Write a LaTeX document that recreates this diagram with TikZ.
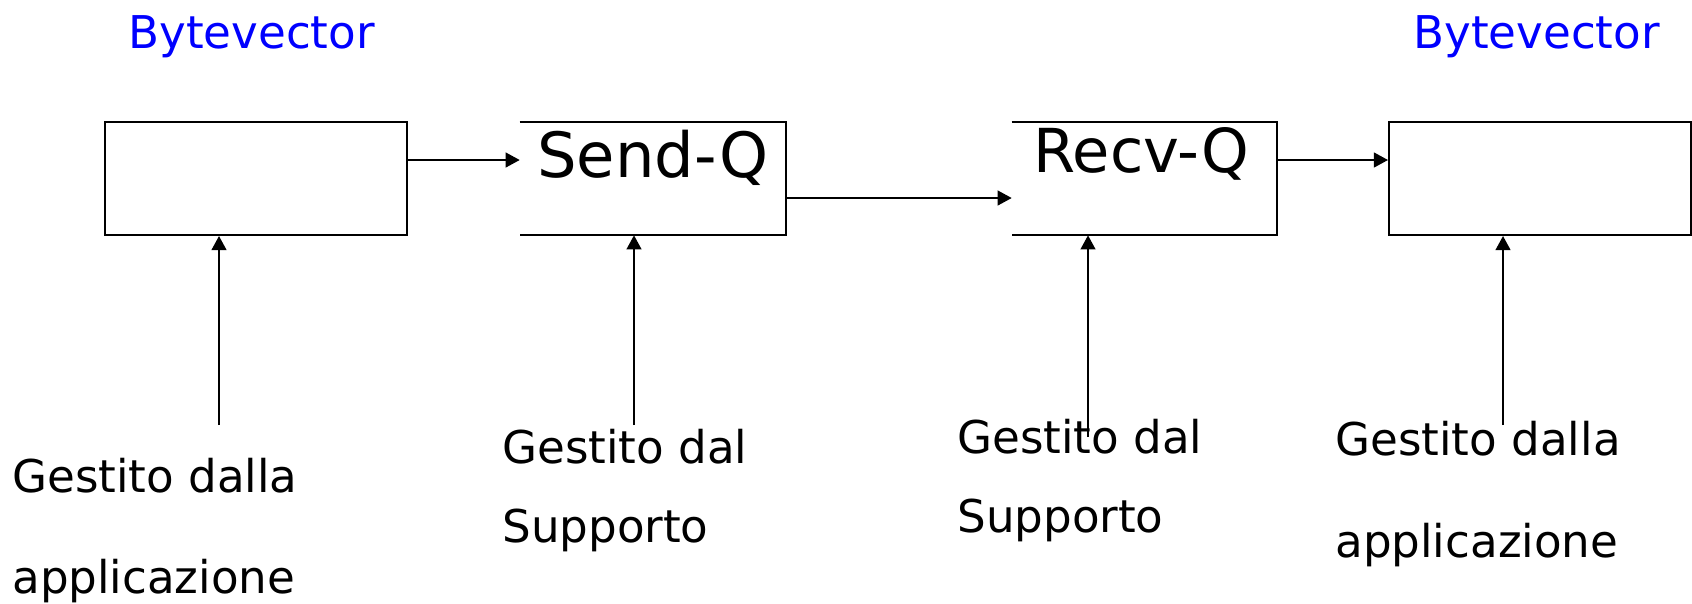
\documentclass[tikz,border=0pt]{standalone}
\usepackage{fontspec}
\setmainfont{DejaVu Sans}
\usetikzlibrary{arrows.meta}
\definecolor{bvblue}{RGB}{0,0,255}
\tikzset{
	arr/.style={-{Triangle[length=8pt,width=8.5pt]}, line width=0.8pt},
	vec/.style={draw, line width=1.2pt, minimum height=2.26cm, inner sep=0pt},
	que/.style={minimum height=2.26cm, inner sep=0pt},
	lbl/.style={anchor=base west, inner sep=0pt, font=\fontsize{25.7}{30}\selectfont},
}
\begin{document}
\begin{tikzpicture}[x=0.02cm,y=-0.02cm]
		\useasboundingbox (0,0) rectangle (1692,603);
		\node[vec, minimum width=6.04cm] (b1) at (256,178.5) {};
		\node[que, minimum width=5.32cm] (sq) at (653,178.5) {};
		\node[que, minimum width=5.30cm] (rq) at (1144.5,178.5) {};
		\node[vec, minimum width=6.04cm] (b4) at (1540,178.5) {};
		\foreach \q in {sq,rq}{
			\draw[line width=1.2pt] (\q.north west) -- (\q.north east) -- (\q.south east) -- (\q.south west);
		}
		
		\node[lbl, font=\fontsize{35.5}{40}\selectfont] (tsq) at (537,177) {Send-Q};
		\node[lbl, font=\fontsize{34.5}{40}\selectfont] (trq) at (1033,172) {Recv-Q};
		\node[lbl, text=bvblue] (v1) at (128,48) {Bytevector};
		\node[lbl, text=bvblue] (v4) at (1413,48) {Bytevector};
		
		\foreach \n/\x/\ya/\yb/\a/\b in {g1/12/492/593/Gestito dalla/applicazione, g2/502/463/542/Gestito dal/Supporto, g3/957/453/532/Gestito dal/Supporto, g4/1335/455/557/Gestito dalla/applicazione}{
			\node[lbl] (\n-a) at (\x,\ya) {\a};
			\node[lbl] (\n-b) at (\x,\yb) {\b};
		}
		
		\foreach \x/\y/\b in {219/425/b1, 634/425/sq, 1088/437/rq, 1503/425/b4}{
			\coordinate (s\b) at (\x,\y);
			\draw[arr] (s\b) -- (s\b |- \b.south);
		}
		
		\draw[arr] ([yshift=0.37cm]b1.east) -- ([yshift=0.37cm]sq.west);
		\draw[arr] ([yshift=-0.39cm]sq.east) -- ([yshift=-0.39cm]rq.west);
		\draw[arr] ([yshift=0.37cm]rq.east) -- ([yshift=0.37cm]b4.west);
\end{tikzpicture}
\end{document}
